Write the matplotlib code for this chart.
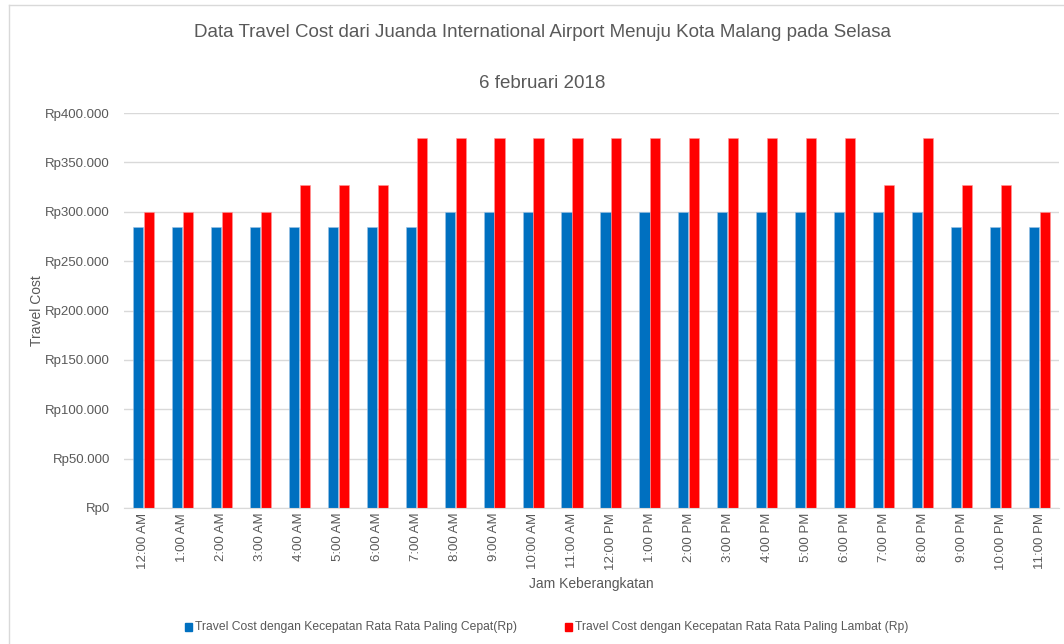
import numpy as np
import matplotlib
matplotlib.use("Agg")
import matplotlib.pyplot as plt
import matplotlib.ticker as mt
from matplotlib.patches import Rectangle

jam = ['12:00 AM', '1:00 AM', '2:00 AM', '3:00 AM', '4:00 AM', '5:00 AM',
       '6:00 AM', '7:00 AM', '8:00 AM', '9:00 AM', '10:00 AM', '11:00 AM',
       '12:00 PM', '1:00 PM', '2:00 PM', '3:00 PM', '4:00 PM', '5:00 PM',
       '6:00 PM', '7:00 PM', '8:00 PM', '9:00 PM', '10:00 PM', '11:00 PM']
cepat = [285000, 285000, 285000, 285000, 285000, 285000, 285000, 285000,
         300000, 300000, 300000, 300000, 300000, 300000, 300000, 300000,
         300000, 300000, 300000, 300000, 300000, 285000, 285000, 285000]
lambat = [300000, 300000, 300000, 300000, 327000, 327000, 327000, 375000,
          375000, 375000, 375000, 375000, 375000, 375000, 375000, 375000,
          375000, 375000, 375000, 327000, 375000, 327000, 327000, 300000]
nama_cepat = 'Travel Cost dengan Kecepatan Rata Rata Paling Cepat(Rp)'
nama_lambat = 'Travel Cost dengan Kecepatan Rata Rata Paling Lambat (Rp)'

plt.rcParams['font.family'] = ['Liberation Sans', 'DejaVu Sans']
grey = '#595959'

fig = plt.figure(figsize=(10.64, 6.44), dpi=100)
# outer chart border (only top and left visible in the crop)
fig.add_artist(plt.Line2D([0.008, 0.008], [0, 0.992], color='#d9d9d9', lw=1))
fig.add_artist(plt.Line2D([0.008, 1], [0.992, 0.992], color='#d9d9d9', lw=1))

ax = fig.add_axes([0.1165, 0.2112, 0.8788, 0.6133])
x = np.arange(len(jam))
w = 0.26
ax.bar(x - w / 2 - 0.01, cepat, w, color='#0070C0', edgecolor='#9dc3e6', linewidth=0.4)
ax.bar(x + w / 2 + 0.01, lambat, w, color='#FF0000', edgecolor='#ff9999', linewidth=0.4)

ax.set_xlim(-0.5, len(jam) - 0.5)
ax.set_ylim(0, 400000)
ax.yaxis.set_major_locator(mt.MultipleLocator(50000))
ax.yaxis.set_major_formatter(mt.FuncFormatter(lambda v, p: 'Rp' + '{:,.0f}'.format(v).replace(',', '.')))
ax.grid(axis='y', color='#d9d9d9', lw=1)
ax.set_axisbelow(True)
for s in ['top', 'right', 'left']:
    ax.spines[s].set_visible(False)
ax.spines['bottom'].set_color('#d9d9d9')
ax.set_xticks(x)
ax.set_xticklabels(jam, rotation=90)
ax.tick_params(axis='both', length=0, colors=grey, labelsize=9.5)
ax.tick_params(axis='y', pad=10)
ax.set_xlabel('Jam Keberangkatan', color=grey, fontsize=10, labelpad=5)
ax.set_ylabel('Travel Cost', color=grey, fontsize=10)
ax.yaxis.set_label_coords(-0.085, 0.5)

fig.text(0.51, 0.95, 'Data Travel Cost dari Juanda International Airport Menuju Kota Malang pada Selasa',
         ha='center', va='center', fontsize=13.5, color=grey)
fig.text(0.51, 0.871, '6 februari 2018', ha='center', va='center', fontsize=13.5, color=grey)

# legend
for lx, col, txt in [(0.174, '#0070C0', nama_cepat), (0.531, '#FF0000', nama_lambat)]:
    fig.add_artist(Rectangle((lx, 0.020), 0.0065, 0.0125, color=col, transform=fig.transFigure))
    fig.text(lx + 0.009, 0.026, txt, ha='left', va='center', fontsize=8.7, color=grey)

fig.savefig('out.png', dpi=100)
